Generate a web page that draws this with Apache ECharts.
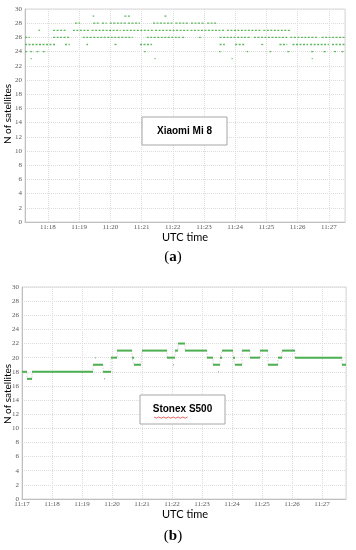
<!DOCTYPE html>
<html><head><meta charset="utf-8">
<script src="https://cdn.jsdelivr.net/npm/echarts@6/dist/echarts.min.js"></script>
<style>html,body{margin:0;padding:0;background:#fff}#c{width:356px;height:550px}</style>
</head><body><div id="c"></div>
<script>
// time in seconds after 11:17:00 ; each run = [start, end, number of satellites]
const xiaomiRuns = [
  [146,149,29],[207,219,29],[284,290,29],
  [112,122,28],[147,160,28],[164,173,28],[179,212,28],[214,237,28],[262,300,28],[305,330,28],[335,360,28],[366,385,28],
  [42,45,27],[70,97,27],[108,140,27],[144,200,27],[204,262,27],[266,330,27],[334,400,27],[404,470,27],[474,525,27],
  [16,25,26],[70,102,26],[127,223,26],[250,314,26],[318,324,26],[350,356,26],[390,450,26],[456,520,26],[526,580,26],[586,631,26],
  [16,74,25],[93,102,25],[134,137,25],[188,193,25],[237,260,25],[390,400,25],[420,440,25],[470,476,25],[505,520,25],[530,560,25],[564,600,25],[606,631,25],
  [16,20,24],[26,32,24],[38,44,24],[50,54,24],[245,248,24],[389,392,24],[442,445,24],[486,489,24],[520,524,24],[566,572,24],[590,596,24],[610,616,24],[624,631,24],
  [27,29,23],[265,267,23],[413,415,23],[567,569,23]
];
const stonexRuns = [
  [0,10,18],[10,20,17],[20,142,18],[142,162,19],[162,178,18],[178,190,20],[190,220,21],[220,224,20],
  [224,238,19],[240,290,21],[290,306,20],[306,312,21],[312,326,22],[326,370,21],[370,382,20],[382,396,19],
  [396,400,20],[400,422,21],[422,426,20],[426,440,19],[440,456,21],[456,476,20],[476,492,21],[492,512,19],
  [512,520,20],[520,546,21],[546,640,20],[640,648,19]
];
const stonexBlips = [[146,148,20],[164,166,17],[392,394,18],[302,304,19]];
const yTicks = [0,30,2];          // min, max, step
const xiaomiRange = [16,631];
const stonexRange = [0,648];
const labelA = 'Xiaomi Mi 8';
const labelB = 'Stonex S500';

const chart = echarts.init(document.getElementById('c'), null, {renderer:'canvas'});
const green = '#4caf50';
function seg(color, width, dash){
  return function(params, api){
    const s = api.coord([api.value(0), api.value(2)]);
    const e = api.coord([api.value(1), api.value(2)]);
    const style = {stroke:color, lineWidth:width};
    if (dash) style.lineDash = dash;
    return {type:'line', shape:{x1:s[0],y1:s[1],x2:e[0],y2:e[1]}, style:style};
  };
}
const stonexPath = [];
stonexRuns.forEach(r=>{stonexPath.push([r[0],r[2]]);stonexPath.push([r[1],r[2]]);});

const tickFont = {fontFamily:'Liberation Serif', fontSize:7, color:'#595959'};
function xAxis(gi, range, margin){
  return {type:'value', gridIndex:gi, min:range[0], max:range[1], minInterval:60, maxInterval:60,
    axisLine:{show:true, lineStyle:{color:'#bfbfbf'}}, axisTick:{show:false},
    axisLabel:Object.assign({margin:margin, showMaxLabel:false, showMinLabel: gi===1,
      formatter:v=> '11:' + (17 + Math.round(v/60))}, tickFont),
    splitLine:{show:true, lineStyle:{color:'#dcdcdc', type:[1,1]}}};
}
function yAxis(gi){
  return {type:'value', gridIndex:gi, min:yTicks[0], max:yTicks[1], interval:yTicks[2],
    axisLine:{show:true, lineStyle:{color:'#bfbfbf'}}, axisTick:{show:false},
    axisLabel:Object.assign({margin:3}, tickFont),
    splitLine:{show:true, lineStyle:{color:'#dcdcdc', type:[1,1]}}};
}
function box(x,y,w,h,text){
  return [{type:'rect', shape:{x:x,y:y,width:w,height:h}, style:{fill:'#fff', stroke:'#a6a6a6', lineWidth:1}, z:10},
    {type:'text', x:x+w/2, y:y+h/2, style:{text:text, fontFamily:'Liberation Sans', fontWeight:'bold', fontSize:10, fill:'#000', align:'center', verticalAlign:'middle'}, z:11}];
}
function ttl(x,y,text,rot,size){
  return {type:'text', x:x, y:y, rotation:rot||0, style:{text:text, fontFamily:'Lato', fontSize:size||11, fill:'#000', align:'center', verticalAlign:'middle'}};
}
function cap(y, letter){
  return {type:'text', x:173, y:y, style:{text:'{p|(}{b|'+letter+'}{p|)}', align:'center', verticalAlign:'middle',
    rich:{p:{fontFamily:'Liberation Serif', fontSize:15, fill:'#000'}, b:{fontFamily:'Liberation Serif', fontSize:15, fontWeight:'bold', fill:'#000'}}}};
}
const squiggle = [];
for(let i=0;i<=14;i++){ squiggle.push([154+i*2.4, 417 + (i%2?1.2:0)]); }

chart.setOption({
  animation:false,
  grid:[{left:25, right:11, top:9, bottom:328, show:true, borderColor:'#d9d9d9'},
        {left:22, right:10, top:287, bottom:51, show:true, borderColor:'#d9d9d9'}],
  xAxis:[xAxis(0, xiaomiRange, 2), xAxis(1, stonexRange, 2)],
  yAxis:[yAxis(0), yAxis(1)],
  series:[
    {type:'custom', xAxisIndex:0, yAxisIndex:0, data:xiaomiRuns, encode:{x:[0,1], y:2}, z:5,
      renderItem:seg('#5cb85c', 1.3, [2,1.5]), clip:true},
    {type:'line', xAxisIndex:1, yAxisIndex:1, data:stonexPath, showSymbol:false, z:2,
      lineStyle:{color:'#c8c8c8', width:0.8, type:[1.5,1.5]}},
    {type:'custom', xAxisIndex:1, yAxisIndex:1, data:stonexRuns, encode:{x:[0,1], y:2}, z:6,
      renderItem:seg(green, 2), clip:true},
    {type:'custom', xAxisIndex:1, yAxisIndex:1, data:stonexBlips, encode:{x:[0,1], y:2}, z:6,
      renderItem:seg('#8fca8f', 1.5), clip:true}
  ],
  graphic:[].concat(
    box(142,117,85,28,labelA), box(140,395,85,29,labelB),
    [{type:'polyline', shape:{points:squiggle}, style:{stroke:'#e04040', lineWidth:0.8, fill:null}, z:12},
     ttl(8,114,'N of satellites',Math.PI/2,10), ttl(8,394,'N of satellites',Math.PI/2,10),
     ttl(185,237,'UTC time'), ttl(185,514,'UTC time'),
     cap(257,'a'), cap(536,'b')]
  )
});
</script></body></html>
